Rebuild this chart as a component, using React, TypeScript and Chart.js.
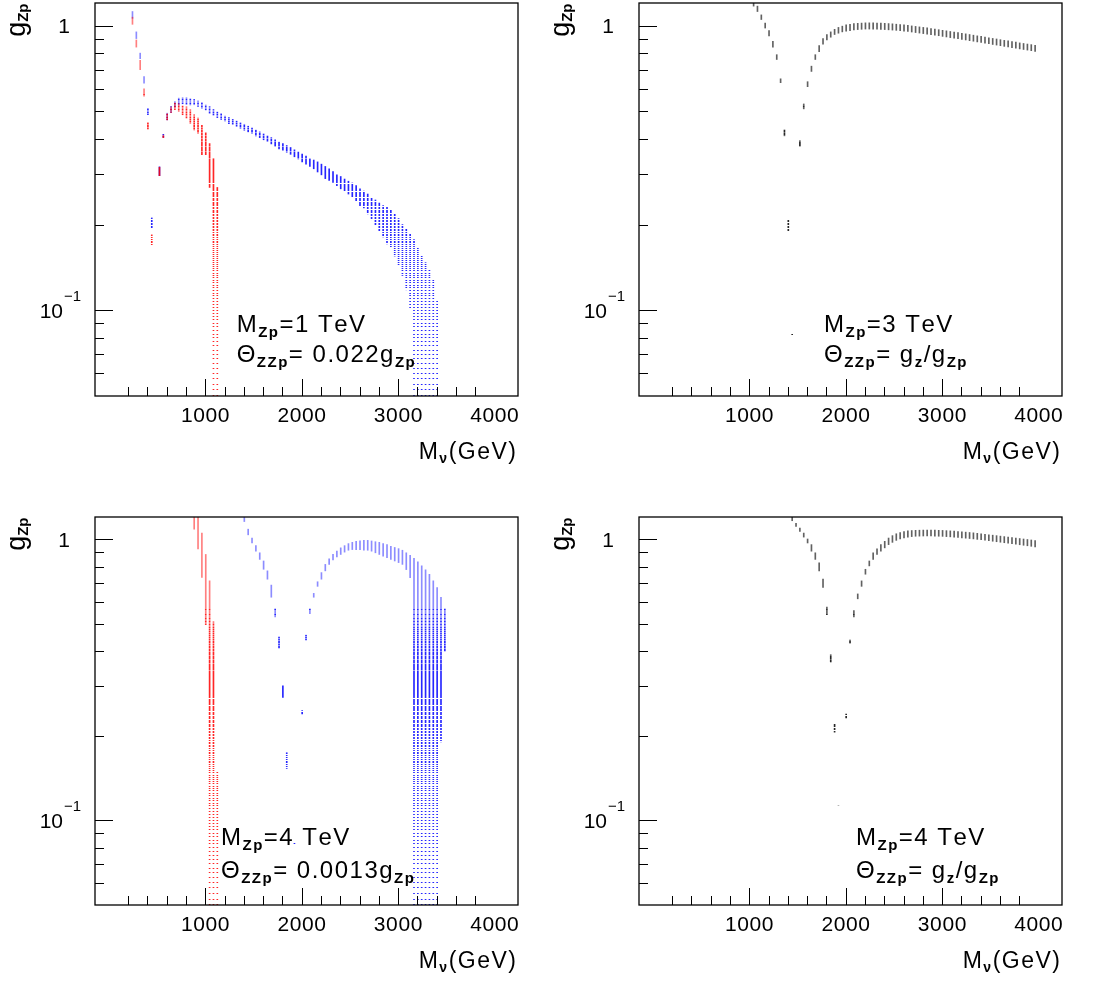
import React, { useEffect, useRef } from 'react';
import { Chart, registerables } from 'chart.js';

Chart.register(...registerables);

// ---------------- axes ----------------
const X_MIN = 100;
const X_MAX = 4000;
const Y_MIN = 0.05;
const Y_MAX = 1.2;
const xMajorTicks = [1000, 2000, 3000];
const xMinorTicks = [200, 400, 600, 800, 1200, 1400, 1600, 1800, 2200, 2400, 2600, 2800, 3200, 3400, 3600, 3800];
const xTickLabelValues = [1000, 2000, 3000, 4000];
const xTickLabels = ['1000', '2000', '3000', '4000'];
const yMajorTicks = [0.1, 1];
const yMinorTicks = [0.06, 0.07, 0.08, 0.09, 0.2, 0.3, 0.4, 0.5, 0.6, 0.7, 0.8, 0.9];
const yTickLabelValues = [0.1, 1];
const yTickLabelBases = ['10', '1'];
const yTickLabelExps = ['\u22121', ''];

// ---------------- data: [M_nu (GeV), g_Zp low, g_Zp high] per scanned column ----------------
// Panel 1: M_Zp = 1 TeV, Theta = 0.022 g_Zp
const p1Red: number[][] = [
  [245, 1.01, 1.07], [285, 0.84, 0.89], [325, 0.70, 0.755], [365, 0.565, 0.60], [405, 0.433, 0.456],
  [445, 0.17, 0.184], [525, 0.297, 0.318], [565, 0.404, 0.412], [605, 0.466, 0.49], [645, 0.495, 0.517],
  [685, 0.506, 0.534], [725, 0.499, 0.531], [765, 0.486, 0.522], [805, 0.473, 0.518], [845, 0.454, 0.506],
  [885, 0.43, 0.486], [925, 0.419, 0.473], [965, 0.352, 0.446], [1005, 0.352, 0.421], [1045, 0.27, 0.385],
  [1085, 0.04, 0.342], [1125, 0.04, 0.27],
];
const p1Blue: number[][] = [
  [245, 1.06, 1.12], [285, 0.90, 0.95], [325, 0.765, 0.80], [365, 0.627, 0.662], [405, 0.486, 0.512],
  [445, 0.195, 0.211], [525, 0.297, 0.319], [565, 0.405, 0.415], [605, 0.466, 0.492], [645, 0.495, 0.519],
  [685, 0.517, 0.541], [725, 0.526, 0.556], [765, 0.531, 0.558], [805, 0.528, 0.558], [845, 0.526, 0.553],
  [885, 0.527, 0.55], [925, 0.52, 0.544], [965, 0.512, 0.536], [1005, 0.505, 0.526], [1045, 0.491, 0.519],
  [1085, 0.484, 0.507], [1125, 0.475, 0.497], [1165, 0.468, 0.491], [1205, 0.462, 0.481], [1245, 0.452, 0.475],
  [1285, 0.449, 0.468], [1325, 0.443, 0.462], [1365, 0.436, 0.456], [1405, 0.429, 0.45], [1445, 0.423, 0.443],
  [1485, 0.419, 0.437], [1525, 0.41, 0.429], [1565, 0.404, 0.423], [1605, 0.397, 0.416], [1645, 0.391, 0.41],
  [1685, 0.384, 0.404], [1725, 0.376, 0.397], [1765, 0.369, 0.39], [1805, 0.365, 0.385], [1845, 0.359, 0.379],
  [1885, 0.353, 0.373], [1925, 0.346, 0.366], [1965, 0.34, 0.36], [2005, 0.332, 0.354], [2045, 0.326, 0.348],
  [2085, 0.32, 0.341], [2125, 0.314, 0.337], [2165, 0.306, 0.332], [2205, 0.299, 0.326], [2245, 0.29, 0.32],
  [2285, 0.286, 0.314], [2325, 0.281, 0.307], [2365, 0.274, 0.299], [2405, 0.267, 0.295], [2445, 0.262, 0.289],
  [2485, 0.256, 0.284], [2525, 0.249, 0.28], [2565, 0.241, 0.274], [2605, 0.233, 0.267], [2645, 0.229, 0.262],
  [2685, 0.218, 0.256], [2725, 0.208, 0.249], [2765, 0.199, 0.244], [2805, 0.19, 0.238], [2845, 0.181, 0.233],
  [2885, 0.171, 0.231], [2925, 0.166, 0.225], [2965, 0.155, 0.219], [3005, 0.144, 0.21], [3045, 0.1325, 0.2],
  [3085, 0.118, 0.193], [3125, 0.1005, 0.186], [3165, 0.04, 0.177], [3205, 0.04, 0.166], [3245, 0.04, 0.155],
  [3285, 0.04, 0.147], [3325, 0.04, 0.139], [3365, 0.04, 0.128], [3405, 0.04, 0.109],
];

// Panel 2: M_Zp = 3 TeV, Theta = g_z / g_Zp
const p2Black: number[][] = [
  [1045, 1.17, 1.21], [1085, 1.12, 1.17], [1125, 1.05, 1.09], [1165, 0.98, 1.02], [1205, 0.92, 0.96],
  [1245, 0.84, 0.88], [1285, 0.76, 0.79], [1325, 0.63, 0.65], [1365, 0.41, 0.43], [1405, 0.189, 0.208],
  [1445, 0.082, 0.084], [1525, 0.377, 0.394], [1565, 0.51, 0.53], [1605, 0.61, 0.635], [1645, 0.69, 0.72],
  [1685, 0.76, 0.79], [1725, 0.81, 0.85], [1765, 0.86, 0.9], [1805, 0.89, 0.93], [1845, 0.91, 0.95],
  [1885, 0.93, 0.97], [1925, 0.94, 0.985], [1965, 0.95, 0.995], [2005, 0.955, 1.005], [2045, 0.96, 1.01],
  [2085, 0.965, 1.015], [2125, 0.968, 1.018], [2165, 0.97, 1.02], [2205, 0.972, 1.022], [2245, 0.972, 1.022],
  [2285, 0.972, 1.022], [2325, 0.971, 1.021], [2365, 0.97, 1.02], [2405, 0.968, 1.018], [2445, 0.966, 1.016],
  [2485, 0.964, 1.014], [2525, 0.962, 1.011], [2565, 0.959, 1.008], [2605, 0.956, 1.005], [2645, 0.953, 1.001],
  [2685, 0.949, 0.997], [2725, 0.945, 0.993], [2765, 0.941, 0.989], [2805, 0.937, 0.985], [2845, 0.933, 0.981],
  [2885, 0.929, 0.976], [2925, 0.925, 0.972], [2965, 0.921, 0.967], [3005, 0.916, 0.962], [3045, 0.912, 0.958],
  [3085, 0.907, 0.953], [3125, 0.903, 0.949], [3165, 0.899, 0.944], [3205, 0.894, 0.939], [3245, 0.89, 0.935],
  [3285, 0.885, 0.93], [3325, 0.881, 0.925], [3365, 0.876, 0.92], [3405, 0.872, 0.916], [3445, 0.867, 0.911],
  [3485, 0.863, 0.906], [3525, 0.858, 0.901], [3565, 0.854, 0.897], [3605, 0.85, 0.892], [3645, 0.845, 0.887],
  [3685, 0.841, 0.883], [3725, 0.837, 0.878], [3765, 0.832, 0.874], [3805, 0.828, 0.869], [3845, 0.824, 0.865],
  [3885, 0.82, 0.861], [3925, 0.816, 0.857], [3965, 0.812, 0.852],
];

// Panel 3: M_Zp = 4 TeV, Theta = 0.0013 g_Zp
const p3Red: number[][] = [
  [885, 1.086, 1.25], [925, 0.924, 1.25], [965, 0.731, 1.052], [1005, 0.497, 0.883],
  [1045, 0.04, 0.711], [1085, 0.04, 0.508], [1125, 0.04, 0.149],
];
const p3Blue: number[][] = [
  [1405, 1.156, 1.21], [1445, 1.037, 1.086], [1485, 0.97, 1.01], [1525, 0.907, 0.949], [1565, 0.848, 0.895],
  [1605, 0.782, 0.837], [1645, 0.721, 0.772], [1685, 0.622, 0.687], [1725, 0.529, 0.566], [1765, 0.41, 0.45],
  [1805, 0.274, 0.301], [1845, 0.153, 0.174], [1925, 0.0815, 0.083], [2005, 0.239, 0.246], [2045, 0.438, 0.456],
  [2085, 0.544, 0.566], [2125, 0.622, 0.642], [2165, 0.68, 0.706], [2205, 0.721, 0.761], [2245, 0.772, 0.814],
  [2285, 0.814, 0.852], [2325, 0.845, 0.883], [2365, 0.866, 0.907], [2405, 0.883, 0.932], [2445, 0.9, 0.949],
  [2485, 0.914, 0.965], [2525, 0.919, 0.975], [2565, 0.919, 0.983], [2605, 0.919, 0.988], [2645, 0.914, 0.991],
  [2685, 0.914, 0.991], [2725, 0.907, 0.986], [2765, 0.895, 0.98], [2805, 0.883, 0.975], [2845, 0.871, 0.965],
  [2885, 0.86, 0.957], [2925, 0.848, 0.943], [2965, 0.837, 0.935], [3005, 0.826, 0.926], [3045, 0.814, 0.914],
  [3085, 0.78, 0.895], [3125, 0.73, 0.876], [3165, 0.04, 0.855], [3205, 0.04, 0.832], [3245, 0.04, 0.804],
  [3285, 0.04, 0.779], [3325, 0.04, 0.75], [3365, 0.04, 0.711], [3405, 0.04, 0.673], [3445, 0.19, 0.622],
  [3485, 0.4, 0.566],
];

// Panel 4: M_Zp = 4 TeV, Theta = g_z / g_Zp
const p4Black: number[][] = [
  [1445, 1.164, 1.21], [1485, 1.11, 1.14], [1525, 1.066, 1.095], [1565, 1.018, 1.052], [1605, 0.97, 1.002],
  [1645, 0.907, 0.957], [1685, 0.848, 0.895], [1725, 0.772, 0.825], [1765, 0.674, 0.721], [1805, 0.539, 0.574],
  [1845, 0.366, 0.388], [1885, 0.206, 0.221], [1925, 0.111, 0.1125], [2005, 0.2315, 0.239], [2045, 0.427, 0.438],
  [2085, 0.529, 0.558], [2125, 0.614, 0.639], [2165, 0.68, 0.711], [2205, 0.751, 0.782], [2245, 0.804, 0.837],
  [2285, 0.848, 0.895], [2325, 0.883, 0.925], [2365, 0.907, 0.957], [2405, 0.932, 0.983], [2445, 0.957, 1.01],
  [2485, 0.975, 1.03], [2525, 0.991, 1.046], [2565, 1.002, 1.057], [2605, 1.01, 1.066], [2645, 1.018, 1.071],
  [2685, 1.022, 1.074], [2725, 1.025, 1.076], [2765, 1.026, 1.077], [2805, 1.027, 1.078], [2845, 1.027, 1.078],
  [2885, 1.027, 1.078], [2925, 1.026, 1.077], [2965, 1.025, 1.076], [3005, 1.024, 1.075], [3045, 1.022, 1.073],
  [3085, 1.02, 1.071], [3125, 1.018, 1.069], [3165, 1.015, 1.066], [3205, 1.012, 1.063], [3245, 1.009, 1.06],
  [3285, 1.006, 1.057], [3325, 1.003, 1.054], [3365, 0.999, 1.05], [3405, 0.996, 1.046], [3445, 0.992, 1.042],
  [3485, 0.988, 1.038], [3525, 0.984, 1.034], [3565, 0.98, 1.03], [3605, 0.976, 1.026], [3645, 0.972, 1.022],
  [3685, 0.968, 1.018], [3725, 0.964, 1.014], [3765, 0.96, 1.01], [3805, 0.956, 1.006], [3845, 0.952, 1.002],
  [3885, 0.948, 0.998], [3925, 0.944, 0.994], [3965, 0.94, 0.99],
];

// ---------------- texts ----------------
type Seg = { t: string; sub?: boolean };
const xTitle: Seg[] = [{ t: 'M' }, { t: '\u03BD', sub: true }, { t: '(GeV)' }];
const yTitle: Seg[] = [{ t: 'g' }, { t: 'Zp', sub: true }];
const p1Line1: Seg[] = [{ t: 'M' }, { t: 'Zp', sub: true }, { t: '=1 TeV' }];
const p1Line2: Seg[] = [{ t: '\u0398' }, { t: 'ZZp', sub: true }, { t: '= 0.022g' }, { t: 'Zp', sub: true }];
const p2Line1: Seg[] = [{ t: 'M' }, { t: 'Zp', sub: true }, { t: '=3 TeV' }];
const p2Line2: Seg[] = [{ t: '\u0398' }, { t: 'ZZp', sub: true }, { t: '= g' }, { t: 'z', sub: true }, { t: '/g' }, { t: 'Zp', sub: true }];
const p3Line1: Seg[] = [{ t: 'M' }, { t: 'Zp', sub: true }, { t: '=4 TeV' }];
const p3Line2: Seg[] = [{ t: '\u0398' }, { t: 'ZZp', sub: true }, { t: '= 0.0013g' }, { t: 'Zp', sub: true }];
const p4Line1: Seg[] = [{ t: 'M' }, { t: 'Zp', sub: true }, { t: '=4 TeV' }];
const p4Line2: Seg[] = [{ t: '\u0398' }, { t: 'ZZp', sub: true }, { t: '= g' }, { t: 'z', sub: true }, { t: '/g' }, { t: 'Zp', sub: true }];

// ---------------- styles / layout ----------------
const RED = { rgb: [255, 0, 0], single: 0.85, dense: 0.5 };
const BLUE = { rgb: [0, 0, 255], single: 0.85, dense: 0.45 };
const BLACK = { rgb: [0, 0, 0], single: 0.85, dense: 0.62 };
const FONT = '"Liberation Sans", Arial, Helvetica, sans-serif';
const CW = 548;
const CH = 495;
// visual texture only: the marker rows of the g-scan grid (dotted look of the original scatter)
const SCAN_STEP = 0.0025;

type Colour = { rgb: number[]; single: number; dense: number };
type Panel = {
  left: number; top: number;
  pad: { left: number; top: number; right: number; bottom: number };
  series: { cols: number[][]; colour: Colour }[];
  line1: Seg[]; line2: Seg[];
  annX: number; annB1: number; annB2: number;
};

const panels: Panel[] = [
  { left: 0, top: 0, pad: { left: 95, top: 3, right: 30, bottom: 99 },
    series: [{ cols: p1Red, colour: RED }, { cols: p1Blue, colour: BLUE }],
    line1: p1Line1, line2: p1Line2, annX: 141.7, annB1: 328.7, annB2: 358.7 },
  { left: CW, top: 0, pad: { left: 91, top: 3, right: 34, bottom: 99 },
    series: [{ cols: p2Black, colour: BLACK }],
    line1: p2Line1, line2: p2Line2, annX: 185, annB1: 329, annB2: 359 },
  { left: 0, top: CH, pad: { left: 95, top: 22, right: 30, bottom: 85 },
    series: [{ cols: p3Red, colour: RED }, { cols: p3Blue, colour: BLUE }],
    line1: p3Line1, line2: p3Line2, annX: 126, annB1: 328, annB2: 361 },
  { left: CW, top: CH, pad: { left: 91, top: 22, right: 34, bottom: 85 },
    series: [{ cols: p4Black, colour: BLACK }],
    line1: p4Line1, line2: p4Line2, annX: 217, annB1: 328, annB2: 361 },
];

const patternCache = new WeakMap<any, Record<string, CanvasPattern | string>>();

function scanPattern(chart: any, colour: Colour): CanvasPattern | string {
  const key = colour.rgb.join(',');
  let cache = patternCache.get(chart);
  if (!cache) { cache = {}; patternCache.set(chart, cache); }
  if (cache[key]) return cache[key];
  const fallback = `rgba(${key},0.55)`;
  const ys = chart.scales && chart.scales.y;
  if (!ys || !chart.chartArea) return fallback;
  const h = chart.height || CH;
  const c = document.createElement('canvas');
  c.width = 1;
  c.height = h;
  const g = c.getContext('2d');
  if (!g) return fallback;
  for (let r = 0; r < h; r++) {
    const top = ys.getValueForPixel(r);
    const bot = ys.getValueForPixel(r + 1);
    const n = Math.floor(top / SCAN_STEP) - Math.floor(bot / SCAN_STEP);
    if (n > 0) {
      g.fillStyle = `rgba(${key},${n === 1 ? colour.single : colour.dense})`;
      g.fillRect(0, r, 1, 1);
    }
  }
  const pat = g.createPattern(c, 'repeat') || fallback;
  cache[key] = pat;
  return pat;
}

function segFont(sub: boolean | undefined, size: number, subSize: number) {
  return sub ? `bold ${subSize}px ${FONT}` : `${size}px ${FONT}`;
}

function richWidth(ctx: CanvasRenderingContext2D, segs: Seg[], size: number, subSize: number, spacing: number) {
  let w = 0;
  let n = 0;
  for (const s of segs) {
    ctx.font = segFont(s.sub, size, subSize);
    for (const ch of s.t) {
      w += ctx.measureText(ch).width;
      n++;
    }
  }
  return w + spacing * Math.max(0, n - 1);
}

function drawRich(ctx: CanvasRenderingContext2D, segs: Seg[], x: number, y: number, size: number, subSize: number, spacing: number, subDrop: number) {
  let cx = x;
  ctx.textAlign = 'left';
  ctx.textBaseline = 'alphabetic';
  for (const s of segs) {
    ctx.font = segFont(s.sub, size, subSize);
    const dy = s.sub ? subDrop : 0;
    for (const ch of s.t) {
      ctx.fillText(ch, cx, y + dy);
      cx += ctx.measureText(ch).width + spacing;
    }
  }
}

function makeRootPlugin(p: Panel) {
  return {
    id: 'rootFrame',
    afterDatasetsDraw(chart: any) {
      const ctx: CanvasRenderingContext2D = chart.ctx;
      const a = chart.chartArea;
      const xs = chart.scales.x;
      const ys = chart.scales.y;
      ctx.save();
      ctx.fillStyle = '#000';
      ctx.strokeStyle = '#000';
      // frame
      ctx.lineWidth = 1.3;
      ctx.strokeRect(a.left, a.top, a.right - a.left, a.bottom - a.top);
      // ticks (inward)
      ctx.lineWidth = 1;
      ctx.beginPath();
      for (const v of xMinorTicks) {
        const px = Math.round(xs.getPixelForValue(v)) + 0.5;
        ctx.moveTo(px, a.bottom); ctx.lineTo(px, a.bottom - 9);
      }
      for (const v of xMajorTicks) {
        const px = Math.round(xs.getPixelForValue(v)) + 0.5;
        ctx.moveTo(px, a.bottom); ctx.lineTo(px, a.bottom - 17);
      }
      for (const v of yMinorTicks) {
        const py = Math.round(ys.getPixelForValue(v)) + 0.5;
        ctx.moveTo(a.left, py); ctx.lineTo(a.left + 9, py);
      }
      for (const v of yMajorTicks) {
        const py = Math.round(ys.getPixelForValue(v)) + 0.5;
        ctx.moveTo(a.left, py); ctx.lineTo(a.left + 18, py);
      }
      ctx.stroke();

      // x tick labels
      xTickLabelValues.forEach((v, i) => {
        const px = xs.getPixelForValue(v);
        const seg = [{ t: xTickLabels[i] }];
        const w = richWidth(ctx, seg, 21, 14, 0.6);
        drawRich(ctx, seg, px - w / 2, a.bottom + 26, 21, 14, 0.6, 0);
      });

      // y tick labels
      yTickLabelValues.forEach((v, i) => {
        const py = ys.getPixelForValue(v);
        const base = yTickLabelBases[i];
        const exp = yTickLabelExps[i];
        ctx.font = `21px ${FONT}`;
        ctx.textBaseline = 'alphabetic';
        if (!exp) {
          ctx.textAlign = 'right';
          ctx.fillText(base, a.left - 25, py + 7.5);
        } else {
          ctx.textAlign = 'right';
          ctx.fillText(base, a.left - 32, py + 7.5);
          ctx.font = `15px ${FONT}`;
          ctx.textAlign = 'left';
          ctx.fillText(exp, a.left - 31, py - 9.5);
        }
      });

      // x axis title (right aligned)
      const tw = richWidth(ctx, xTitle, 23, 14, 1.5);
      drawRich(ctx, xTitle, a.right - 2 - tw, a.bottom + 62.5, 23, 14, 1.5, 4);

      // y axis title (rotated, ends at top of frame)
      const yw = richWidth(ctx, yTitle, 27, 15, 0);
      ctx.save();
      ctx.translate(a.left - 70, a.top + 0.5 + yw);
      ctx.rotate(-Math.PI / 2);
      drawRich(ctx, yTitle, 0, 0, 27, 15, 0, 3);
      ctx.restore();

      // annotation
      drawRich(ctx, p.line1, a.left + p.annX, a.top + p.annB1, 24, 15, 1.5, 5);
      drawRich(ctx, p.line2, a.left + p.annX, a.top + p.annB2, 24, 15, 1.5, 5);
      ctx.restore();
    },
  };
}

function PanelChart({ p }: { p: Panel }) {
  const ref = useRef<HTMLCanvasElement | null>(null);
  useEffect(() => {
    if (!ref.current) return;
    const chart = new Chart(ref.current, {
      type: 'bar',
      data: {
        datasets: p.series.map((s) => ({
          data: s.cols.map((c) => ({ x: c[0], y: [c[1], c[2]] })),
          backgroundColor: (ctx: any) => scanPattern(ctx.chart, s.colour),
          borderWidth: 0,
          barThickness: 1,
          grouped: false,
        })) as any,
      },
      options: {
        animation: false,
        responsive: false,
        maintainAspectRatio: false,
        events: [],
        layout: { padding: p.pad },
        plugins: { legend: { display: false }, tooltip: { enabled: false } },
        scales: {
          x: { type: 'linear', min: X_MIN, max: X_MAX, display: false },
          y: { type: 'logarithmic', min: Y_MIN, max: Y_MAX, display: false },
        },
      } as any,
      plugins: [makeRootPlugin(p)],
    });
    return () => chart.destroy();
  }, [p]);
  return (
    <canvas
      ref={ref}
      width={CW}
      height={CH}
      style={{ position: 'absolute', left: p.left, top: p.top, width: CW, height: CH }}
    />
  );
}

export default function App() {
  return (
    <div style={{ position: 'absolute', left: 0, top: 0, width: 1096, height: 990, background: '#fff' }}>
      {panels.map((p, i) => (
        <PanelChart key={i} p={p} />
      ))}
    </div>
  );
}
